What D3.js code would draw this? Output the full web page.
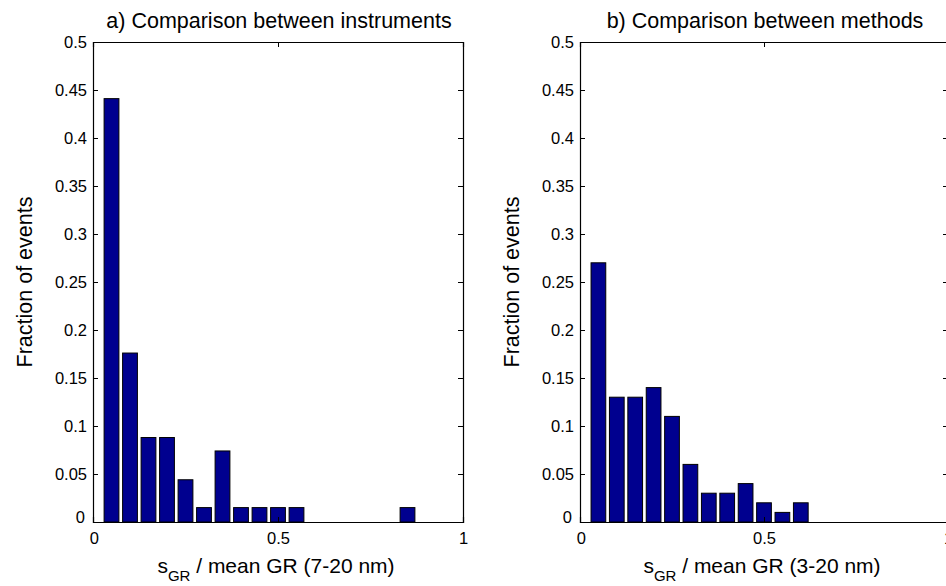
<!DOCTYPE html>
<html>
<head>
<meta charset="utf-8">
<script src="https://cdn.jsdelivr.net/npm/d3@7"></script>
<style>
  body { margin: 0; background: #fff; }
  svg text { font-family: "Liberation Sans", Arial, sans-serif; fill: #000; }
</style>
</head>
<body>
<svg width="946" height="586"></svg>
<script>
// bin centres (fraction of mean GR) and fraction of events per bin
let binsA = [0.05, 0.1, 0.15, 0.2, 0.25, 0.3, 0.35, 0.4, 0.45, 0.5, 0.55, 0.85];
let fracA = [0.441, 0.176, 0.088, 0.088, 0.044, 0.015, 0.074, 0.015, 0.015, 0.015, 0.015, 0.015];

let binsB = [0.05, 0.1, 0.15, 0.2, 0.25, 0.3, 0.35, 0.4, 0.45, 0.5, 0.55, 0.6];
let fracB = [0.27, 0.13, 0.13, 0.14, 0.11, 0.06, 0.03, 0.03, 0.04, 0.02, 0.01, 0.02];

let yTicks = [0, 0.05, 0.1, 0.15, 0.2, 0.25, 0.3, 0.35, 0.4, 0.45, 0.5];
let xTicks = [0, 0.5, 1];

let panels = [
    {title: 'a) Comparison between instruments', range: '(7-20 nm)', bins: binsA, frac: fracA, left: 93, right: 463},
    {title: 'b) Comparison between methods', range: '(3-20 nm)', bins: binsB, frac: fracB, left: 580, right: 948}
];

let svg = d3.select('svg');
let yTop = 42, yBottom = 522;
let binWidth = 0.05, barFrac = 0.8, tickLen = 5;

let y = d3.scaleLinear().domain([0, 0.5]).range([yBottom, yTop]);

panels.forEach(p => {
    let x = d3.scaleLinear().domain([0, 1]).range([p.left, p.right]);
    let g = svg.append('g');

    // bars
    g.selectAll('rect')
        .data(p.bins.map((b, i) => ({bin: b, value: p.frac[i]})))
        .enter().append('rect')
        .attr('x', d => x(d.bin - binWidth * barFrac / 2))
        .attr('width', d => x(d.bin + binWidth * barFrac / 2) - x(d.bin - binWidth * barFrac / 2))
        .attr('y', d => y(d.value))
        .attr('height', d => y(0) - y(d.value))
        .attr('fill', '#00008f')
        .attr('stroke', '#000')
        .attr('stroke-width', 1);

    // axes, ticks on all four sides pointing inward
    let left = g.append('g').attr('transform', `translate(${p.left},0)`)
        .call(d3.axisLeft(y).tickValues(yTicks).tickSize(-tickLen).tickPadding(6).tickFormat(d => String(+d.toFixed(2))));
    let rightAx = g.append('g').attr('transform', `translate(${p.right},0)`)
        .call(d3.axisRight(y).tickValues(yTicks).tickSize(-tickLen).tickFormat(''));
    let bot = g.append('g').attr('transform', `translate(0,${yBottom})`)
        .call(d3.axisBottom(x).tickValues(xTicks).tickSize(-tickLen).tickPadding(10).tickFormat(d => String(d)));
    let topAx = g.append('g').attr('transform', `translate(0,${yTop})`)
        .call(d3.axisTop(x).tickValues(xTicks).tickSize(-tickLen).tickFormat(''));

    [left, rightAx, bot, topAx].forEach(a => {
        a.select('.domain').attr('stroke', '#000').attr('stroke-width', 1.2);
        a.selectAll('.tick line').attr('stroke', '#000');
        a.selectAll('text').attr('font-size', 16.5).attr('font-family', '"Liberation Sans", Arial, sans-serif');
    });
    // MATLAB nudges the shared zero labels away from the corner
    left.selectAll('.tick').filter(d => d === 0).select('text').attr('dy', '0.02em').attr('x', -8);
    bot.selectAll('.tick').filter(d => d === 0).select('text').attr('dx', '0.05em');

    // title
    g.append('text')
        .attr('x', (p.left + p.right) / 2 + 1)
        .attr('y', 28)
        .attr('text-anchor', 'middle')
        .attr('font-size', 21.5)
        .text(p.title);

    // x label with subscript
    let xl = g.append('text')
        .attr('x', (p.left + p.right) / 2 - 2)
        .attr('y', 573)
        .attr('text-anchor', 'middle')
        .attr('font-size', 21);
    xl.append('tspan').text('s');
    xl.append('tspan').attr('font-size', 15).attr('dy', 8).text('GR');
    xl.append('tspan').attr('dy', -8).text(' / mean GR ' + p.range);

    // y label
    g.append('text')
        .attr('transform', `translate(${p.left - 61},${(yTop + yBottom) / 2}) rotate(-90)`)
        .attr('text-anchor', 'middle')
        .attr('font-size', 21.5)
        .text('Fraction of events');
});
</script>
</body>
</html>
